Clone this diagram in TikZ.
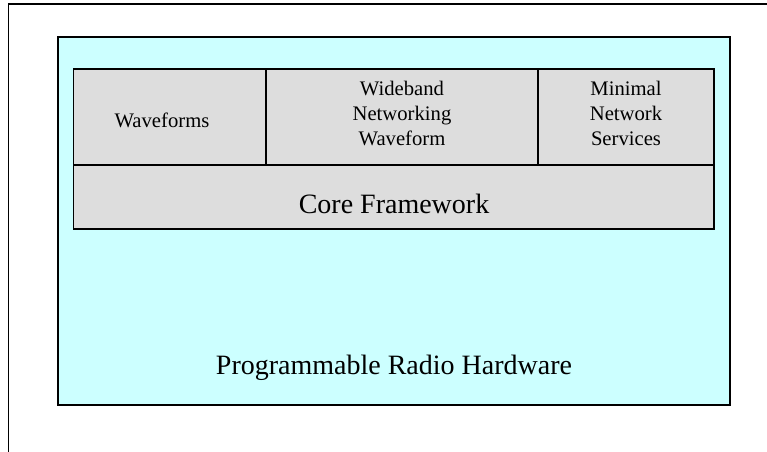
\documentclass[tikz,border=0pt]{standalone}
\usepackage{fontspec}
\setmainfont{Liberation Serif}
\definecolor{hwcyan}{RGB}{204,255,255}
\definecolor{swgray}{RGB}{221,221,221}
\tikzset{
  smalltext/.style={font=\fontsize{15.5}{18.75}\selectfont, align=center},
  largetext/.style={font=\fontsize{21}{25}\selectfont},
  cell/.style={line width=1.2pt}
}
\begin{document}
\begin{tikzpicture}[x=0.75pt,y=-0.75pt]
    \useasboundingbox (0,0) rectangle (767,452) ;
    \draw[line width=1pt] (8.5,452) -- (8.5,4) -- (767,4) ;
    \draw[fill=hwcyan,line width=1.5pt] (57.5,37) rectangle (729.5,405) ;
    \draw[cell,fill=swgray] (73.5,69) rectangle (714,229) ;
    \draw[cell] (73.5,165) -- (714,165) ;
    \draw[cell] (266,69) -- (266,165) ;
    \draw[cell] (538,69) -- (538,165) ;
    \node[smalltext,anchor=base] (waveforms) at (162,128) {Waveforms} ;
    \node[smalltext] (wnw) at (402,113) {Wideband\\Networking\\Waveform} ;
    \node[smalltext] (mns) at (626,113) {Minimal\\Network\\Services} ;
    \node[largetext,anchor=base] (core) at (394,214) {Core Framework} ;
    \node[largetext,anchor=base] (hardware) at (394,374) {Programmable Radio Hardware} ;
  \end{tikzpicture}
\end{document}
